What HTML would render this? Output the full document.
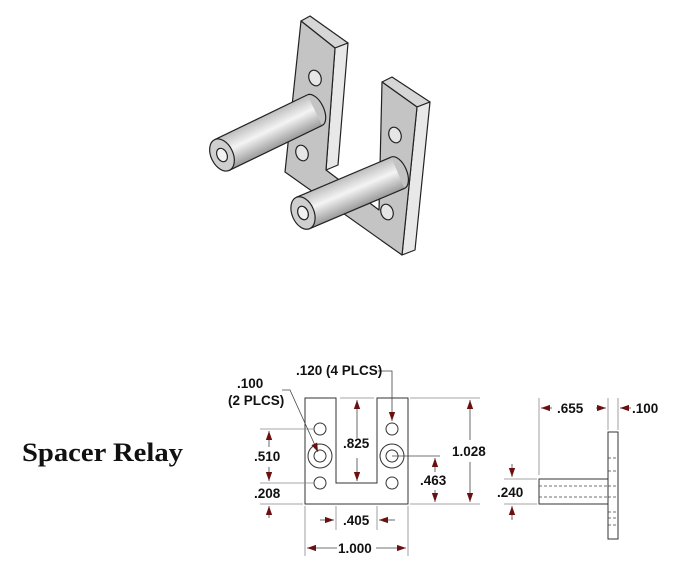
<!DOCTYPE html>
<html><head><meta charset="utf-8"><style>
html,body{margin:0;padding:0;background:#fff;}
svg{display:block;}
.l{font-family:"Liberation Sans",sans-serif;font-weight:bold;font-size:13.5px;fill:#111;}
</style></head><body>
<svg width="676" height="564" viewBox="0 0 676 564" xmlns="http://www.w3.org/2000/svg">
<defs>
<linearGradient id="cg" x1="0" y1="0" x2="0" y2="1">
<stop offset="0" stop-color="#bdbdbd"/><stop offset="0.45" stop-color="#f4f4f4"/><stop offset="1" stop-color="#9a9a9a"/>
</linearGradient>
<marker id="a" viewBox="0 0 10 10" refX="10" refY="5" markerWidth="9" markerHeight="9" markerUnits="userSpaceOnUse" orient="auto-start-reverse"><path d="M0,1.5 L10,5 L0,8.5 z" fill="#6a1010"/></marker>
</defs>
<g stroke="#222" stroke-width="1.2" stroke-linejoin="round">
<polygon points="301,21 310,16 348,43 335,48" fill="#d6d6d6"/>
<polygon points="382,82 392,77 430,102 417,107" fill="#d6d6d6"/>
<polygon points="335,48 348,43 338,165 326,170" fill="#e8e8e8"/>
<polygon points="417,107 430,102 415,250 402,255" fill="#e8e8e8"/>
<polygon points="301,21 335,48 326,170 379,210 382,82 417,107 402,255 285,172" fill="#c4c4c4"/>
<ellipse cx="315" cy="78" rx="6" ry="8" fill="#e6e6e6" transform="rotate(-20 315 78)"/>
<ellipse cx="302" cy="153" rx="6" ry="8" fill="#e6e6e6" transform="rotate(-20 302 153)"/>
<ellipse cx="395" cy="135" rx="6" ry="8" fill="#e6e6e6" transform="rotate(-20 395 135)"/>
<ellipse cx="387" cy="212" rx="6" ry="8" fill="#e6e6e6" transform="rotate(-20 387 212)"/>
<g transform="translate(222,155) rotate(-25.8)">
<rect x="0" y="-17" width="103" height="34" fill="url(#cg)" stroke="none"/>
<line x1="0" y1="-17" x2="103" y2="-17"/><line x1="0" y1="17" x2="103" y2="17"/>
<path d="M103,-17 A9,17 0 0 1 103,17" fill="none"/>
<ellipse cx="0" cy="0" rx="11" ry="17" fill="#cfcfcf"/>
<ellipse cx="0" cy="0" rx="5" ry="7" fill="#f2f2f2"/>
</g>
<g transform="translate(303,213) rotate(-23)">
<rect x="0" y="-17" width="103" height="34" fill="url(#cg)" stroke="none"/>
<line x1="0" y1="-17" x2="103" y2="-17"/><line x1="0" y1="17" x2="103" y2="17"/>
<path d="M103,-17 A9,17 0 0 1 103,17" fill="none"/>
<ellipse cx="0" cy="0" rx="11" ry="17" fill="#cfcfcf"/>
<ellipse cx="0" cy="0" rx="5" ry="7" fill="#f2f2f2"/>
</g>
</g>
<text x="22" y="461" font-family="'Liberation Serif',serif" font-weight="bold" font-size="26" textLength="161" lengthAdjust="spacingAndGlyphs" fill="#111">Spacer Relay</text>
<g fill="none" stroke="#333" stroke-width="1">
<polygon points="305,398 336,398 336,483 377,483 377,398 408,398 408,504 305,504" fill="#fff"/>
<circle cx="320" cy="429" r="6"/><circle cx="320" cy="456" r="12"/><circle cx="320" cy="456" r="6"/><circle cx="320" cy="483" r="6"/>
<circle cx="392" cy="429" r="6"/><circle cx="392" cy="456" r="12"/><circle cx="392" cy="456" r="6"/><circle cx="392" cy="483" r="6"/>
</g>
<g stroke="#888" stroke-width="0.8" fill="none">
<line x1="260" y1="429" x2="314" y2="429"/><line x1="260" y1="483" x2="314" y2="483"/><line x1="260" y1="504" x2="303" y2="504"/>
<line x1="410" y1="398" x2="480" y2="398"/><line x1="410" y1="504" x2="480" y2="504"/><line x1="340" y1="398" x2="374" y2="398"/>
<line x1="336" y1="506" x2="336" y2="530"/><line x1="377" y1="506" x2="377" y2="530"/>
<line x1="305" y1="506" x2="305" y2="556"/><line x1="408" y1="506" x2="408" y2="556"/>
</g>
<g stroke="#444" stroke-width="0.8" fill="none">
<line x1="269" y1="431" x2="269" y2="447" marker-start="url(#a)"/><line x1="269" y1="467" x2="269" y2="481" marker-end="url(#a)"/>
<line x1="269" y1="518" x2="269" y2="506" marker-end="url(#a)"/>
<line x1="357" y1="400" x2="357" y2="438" marker-start="url(#a)"/><line x1="357" y1="458" x2="357" y2="481" marker-end="url(#a)"/>
<line x1="470" y1="400" x2="470" y2="440" marker-start="url(#a)"/><line x1="470" y1="462" x2="470" y2="502" marker-end="url(#a)"/>
<line x1="435" y1="472" x2="435" y2="458" marker-end="url(#a)"/><line x1="435" y1="490" x2="435" y2="502" marker-end="url(#a)"/>
<line x1="392" y1="456" x2="440" y2="456"/>
<line x1="320" y1="520" x2="334" y2="520" marker-end="url(#a)"/><line x1="395" y1="520" x2="379" y2="520" marker-end="url(#a)"/>
<line x1="337" y1="548" x2="307" y2="548" marker-end="url(#a)"/><line x1="376" y1="548" x2="406" y2="548" marker-end="url(#a)"/>
<polyline points="282,390 290,390 318,452" marker-end="url(#a)"/>
<polyline points="378,371 392,371 392,421" marker-end="url(#a)"/>
</g>
<text class="l" x="237" y="388">.100</text>
<text class="l" x="228" y="405">(2 PLCS)</text>
<text class="l" x="296" y="375">.120 (4 PLCS)</text>
<text class="l" x="254" y="461">.510</text>
<text class="l" x="254" y="498">.208</text>
<text class="l" x="343" y="448">.825</text>
<text class="l" x="452" y="456">1.028</text>
<text class="l" x="420" y="485">.463</text>
<text class="l" x="343" y="525">.405</text>
<text class="l" x="338" y="553">1.000</text>
<g fill="none" stroke="#333" stroke-width="1">
<rect x="608" y="432" width="10" height="107" fill="#fff"/>
<rect x="539" y="479" width="69" height="25" fill="#fff"/>
</g>
<g stroke="#444" stroke-width="0.8" stroke-dasharray="3,2" fill="none">
<line x1="539" y1="486" x2="608" y2="486"/><line x1="539" y1="497" x2="608" y2="497"/>
<line x1="608" y1="458" x2="618" y2="458"/><line x1="608" y1="471" x2="618" y2="471"/><line x1="608" y1="486" x2="618" y2="486"/><line x1="608" y1="497" x2="618" y2="497"/>
<line x1="608" y1="512" x2="618" y2="512"/><line x1="608" y1="518" x2="618" y2="518"/><line x1="608" y1="525" x2="618" y2="525"/>
</g>
<g stroke="#888" stroke-width="0.8">
<line x1="539" y1="398" x2="539" y2="475"/><line x1="608" y1="398" x2="608" y2="430"/><line x1="618" y1="398" x2="618" y2="430"/>
<line x1="504" y1="479" x2="537" y2="479"/><line x1="504" y1="504" x2="537" y2="504"/>
</g>
<g stroke="#444" stroke-width="0.8">
<line x1="552" y1="408" x2="541" y2="408" marker-end="url(#a)"/><line x1="596" y1="408" x2="606" y2="408" marker-end="url(#a)"/>
<line x1="631" y1="408" x2="620" y2="408" marker-end="url(#a)"/>
<line x1="512" y1="464" x2="512" y2="477" marker-end="url(#a)"/><line x1="512" y1="520" x2="512" y2="506" marker-end="url(#a)"/>
</g>
<text class="l" x="557" y="413">.655</text>
<text class="l" x="632" y="413">.100</text>
<text class="l" x="497" y="497">.240</text>
</svg>
</body></html>
